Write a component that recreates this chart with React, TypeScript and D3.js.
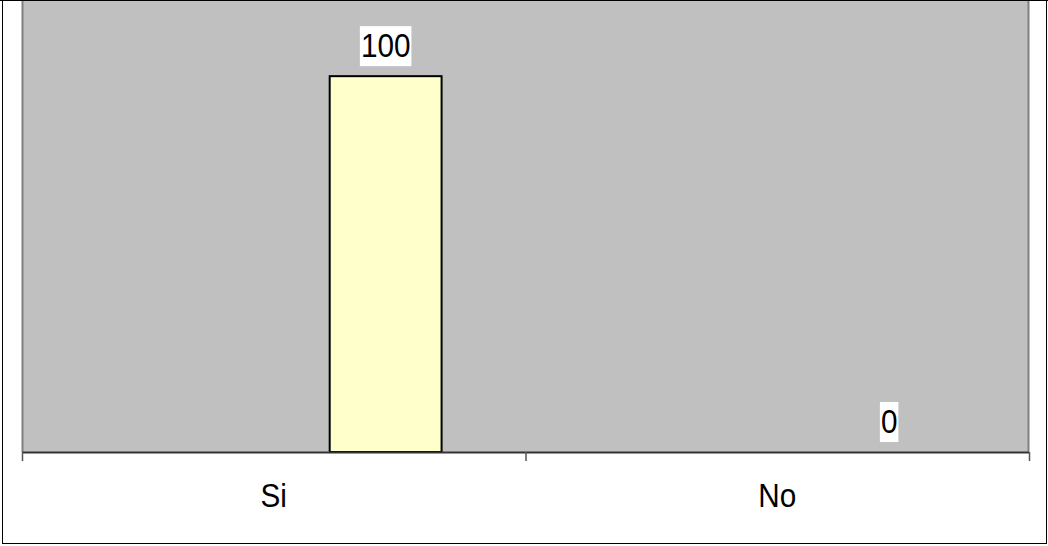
import React, { useEffect, useRef } from "react";
import * as d3 from "d3";

const categories = ["Si", "No"];
const seriesSlots = ["s1", "s2", "s3"];
const activeSlot = "s3";
const values = [100, 0];
const yMax = 120;

const W = 1048;
const H = 546;
const FS = 33;
const SX = 0.9;

export default function App() {
  const ref = useRef<SVGSVGElement>(null);

  useEffect(() => {
    document.body.style.margin = "0";
    const svg = d3.select(ref.current);
    svg.selectAll("*").remove();

    const left = 22, right = 1029, top = 1, bottom = 452;

    svg.append("rect")
      .attr("x", 2.5).attr("y", 0.5)
      .attr("width", 1044).attr("height", 543)
      .attr("fill", "#ffffff").attr("stroke", "#000").attr("stroke-width", 1);

    svg.append("rect")
      .attr("x", left).attr("y", top)
      .attr("width", right - left).attr("height", bottom - top)
      .attr("fill", "#c0c0c0");
    svg.append("line").attr("x1", left + 0.5).attr("x2", left + 0.5).attr("y1", top).attr("y2", bottom)
      .attr("stroke", "#808080").attr("stroke-width", 2);
    svg.append("line").attr("x1", right - 0.5).attr("x2", right - 0.5).attr("y1", top).attr("y2", bottom)
      .attr("stroke", "#808080").attr("stroke-width", 2);
    svg.append("line").attr("x1", 0).attr("x2", W).attr("y1", 0.5).attr("y2", 0.5)
      .attr("stroke", "#000").attr("stroke-width", 1);

    const x = d3.scaleBand<string>().domain(categories).range([left, right]).paddingInner(0).paddingOuter(0);
    const xs = d3.scaleBand<string>().domain(seriesSlots).range([0, x.bandwidth()])
      .paddingInner(0).paddingOuter(0.75);
    const y = d3.scaleLinear().domain([0, yMax]).range([bottom, top]);

    const addText = (parent: any, cx: number, by: number, s: string) =>
      parent.append("text")
        .attr("transform", `translate(${cx},${by}) scale(${SX},1)`)
        .attr("text-anchor", "middle")
        .attr("font-family", "Liberation Sans, Arial, sans-serif")
        .attr("font-size", FS).attr("fill", "#000")
        .text(s);

    const g = svg.append("g");
    categories.forEach((c, i) => {
      const v = values[i];
      const bx = (x(c) as number) + (xs(activeSlot) as number);
      const bw = xs.bandwidth();
      if (v > 0) {
        g.append("rect")
          .attr("x", bx).attr("y", y(v))
          .attr("width", bw).attr("height", y(0) - y(v))
          .attr("fill", "#ffffcc").attr("stroke", "#000").attr("stroke-width", 2);
      }
      const cx = bx + bw / 2;
      const labelBottom = y(v) - 10;
      const t = addText(g, cx, labelBottom - 9, String(v));
      const bb = (t.node() as SVGTextElement).getBBox();
      const tw = bb.width * SX;
      g.insert("rect", () => t.node() as any)
        .attr("x", cx - tw / 2 - 1).attr("y", labelBottom - 40)
        .attr("width", tw + 2).attr("height", 40)
        .attr("fill", "#ffffff");
    });

    const axis = svg.append("g");
    axis.append("line").attr("x1", left).attr("x2", right).attr("y1", bottom + 0.5).attr("y2", bottom + 0.5)
      .attr("stroke", "#333").attr("stroke-width", 2);
    const tickXs = [left, ...categories.map((c) => (x(c) as number) + x.bandwidth())];
    tickXs.forEach((tx) => {
      axis.append("line").attr("x1", tx + 0.5).attr("x2", tx + 0.5).attr("y1", bottom).attr("y2", 461)
        .attr("stroke", "#555").attr("stroke-width", 1.5);
    });
    categories.forEach((c) => {
      addText(axis, (x(c) as number) + x.bandwidth() / 2, 507, c);
    });
  }, []);

  return <svg ref={ref} width={W} height={H} style={{ display: "block" }} />;
}
